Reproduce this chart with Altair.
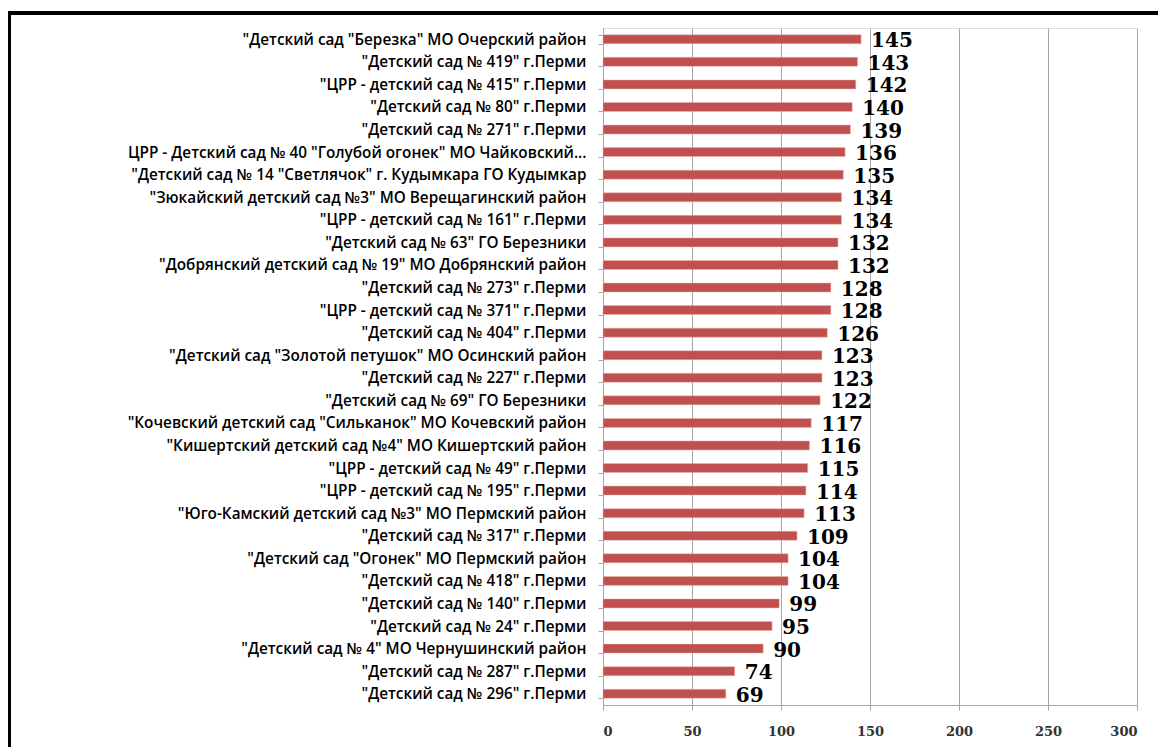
import altair as alt
import pandas as pd

categories = [
    '"Детский сад "Березка" МО Очерский район',
    '"Детский сад № 419" г.Перми',
    '"ЦРР - детский сад № 415" г.Перми',
    '"Детский сад № 80" г.Перми',
    '"Детский сад № 271" г.Перми',
    'ЦРР - Детский сад № 40 "Голубой огонек" МО Чайковский...',
    '"Детский сад № 14 "Светлячок" г. Кудымкара  ГО Кудымкар',
    '"Зюкайский детский сад №3" МО Верещагинский район',
    '"ЦРР - детский сад № 161" г.Перми',
    '"Детский сад № 63" ГО Березники',
    '"Добрянский детский сад № 19" МО Добрянский район',
    '"Детский сад № 273" г.Перми',
    '"ЦРР - детский сад № 371" г.Перми',
    '"Детский сад № 404" г.Перми',
    '"Детский сад "Золотой петушок" МО Осинский район',
    '"Детский сад № 227" г.Перми',
    '"Детский сад № 69" ГО Березники',
    '"Кочевский детский сад "Сильканок" МО Кочевский район',
    '"Кишертский детский сад №4" МО Кишертский район',
    '"ЦРР - детский сад № 49" г.Перми',
    '"ЦРР - детский сад № 195" г.Перми',
    '"Юго-Камский детский сад №3" МО Пермский район',
    '"Детский сад № 317" г.Перми',
    '"Детский сад "Огонек" МО Пермский район',
    '"Детский сад № 418" г.Перми',
    '"Детский сад № 140" г.Перми',
    '"Детский сад № 24" г.Перми',
    '"Детский сад № 4" МО Чернушинский район',
    '"Детский сад № 287" г.Перми',
    '"Детский сад № 296" г.Перми',
]
values = [145, 143, 142, 140, 139, 136, 135, 134, 134, 132, 132, 128, 128, 126, 123,
          123, 122, 117, 116, 115, 114, 113, 109, 104, 104, 99, 95, 90, 74, 69]
x_ticks = [0, 50, 100, 150, 200, 250, 300]

df = pd.DataFrame({"cat": categories, "val": values})

W, H = 534, 677

y_enc = alt.Y("cat:N", sort=categories, title=None,
              scale=alt.Scale(paddingInner=0.6, paddingOuter=0.3),
              axis=alt.Axis(labelFont="Open Sans", labelFontWeight=600, labelFontSize=15.3,
                            labelColor="#000000", labelPadding=12, labelLimit=600,
                            tickBand="extent", tickSize=5, tickColor="#A6A6A6",
                            domainColor="#A6A6A6", minExtent=590, maxExtent=590,
                            grid=False))
x_enc = alt.X("val:Q", title=None,
              scale=alt.Scale(domain=[0, 300], nice=False),
              axis=alt.Axis(values=x_ticks, labelFont="DejaVu Serif", labelFontWeight="bold",
                            labelFontSize=13, labelColor="#333333", labelPadding=15,
                            tickSize=5, tickColor="#A6A6A6", domainColor="#A6A6A6",
                            grid=True, gridColor="#A6A6A6", gridWidth=1))

bars = alt.Chart(df).mark_bar(color="#C0504D", size=9, stroke="#E8B7B6", strokeWidth=0.5).encode(
    x=x_enc, y=y_enc)

labels = alt.Chart(df).mark_text(align="left", baseline="middle", dx=10, dy=2,
                                 font="DejaVu Serif", fontWeight="bold", fontSize=20,
                                 color="#000000").encode(
    x="val:Q", y=alt.Y("cat:N", sort=categories), text="val:Q")

frame_left = alt.Chart(df).mark_rule(color="#000000", strokeWidth=3, clip=False).encode(
    x=alt.value(-594), y=alt.value(-16), y2=alt.value(800))
frame_top = alt.Chart(df).mark_rule(color="#000000", strokeWidth=3, clip=False).encode(
    x=alt.value(-595), x2=alt.value(700), y=alt.value(-15))

chart = alt.layer(bars, labels, frame_left, frame_top).properties(
    width=W, height=H,
    autosize=alt.AutoSizeParams(type="none"),
    padding={"left": 595, "top": 20, "right": 21, "bottom": 42},
).configure_view(stroke=None).configure(background="white")

chart.save("out.html", embed_options={"renderer": "svg", "actions": False})
